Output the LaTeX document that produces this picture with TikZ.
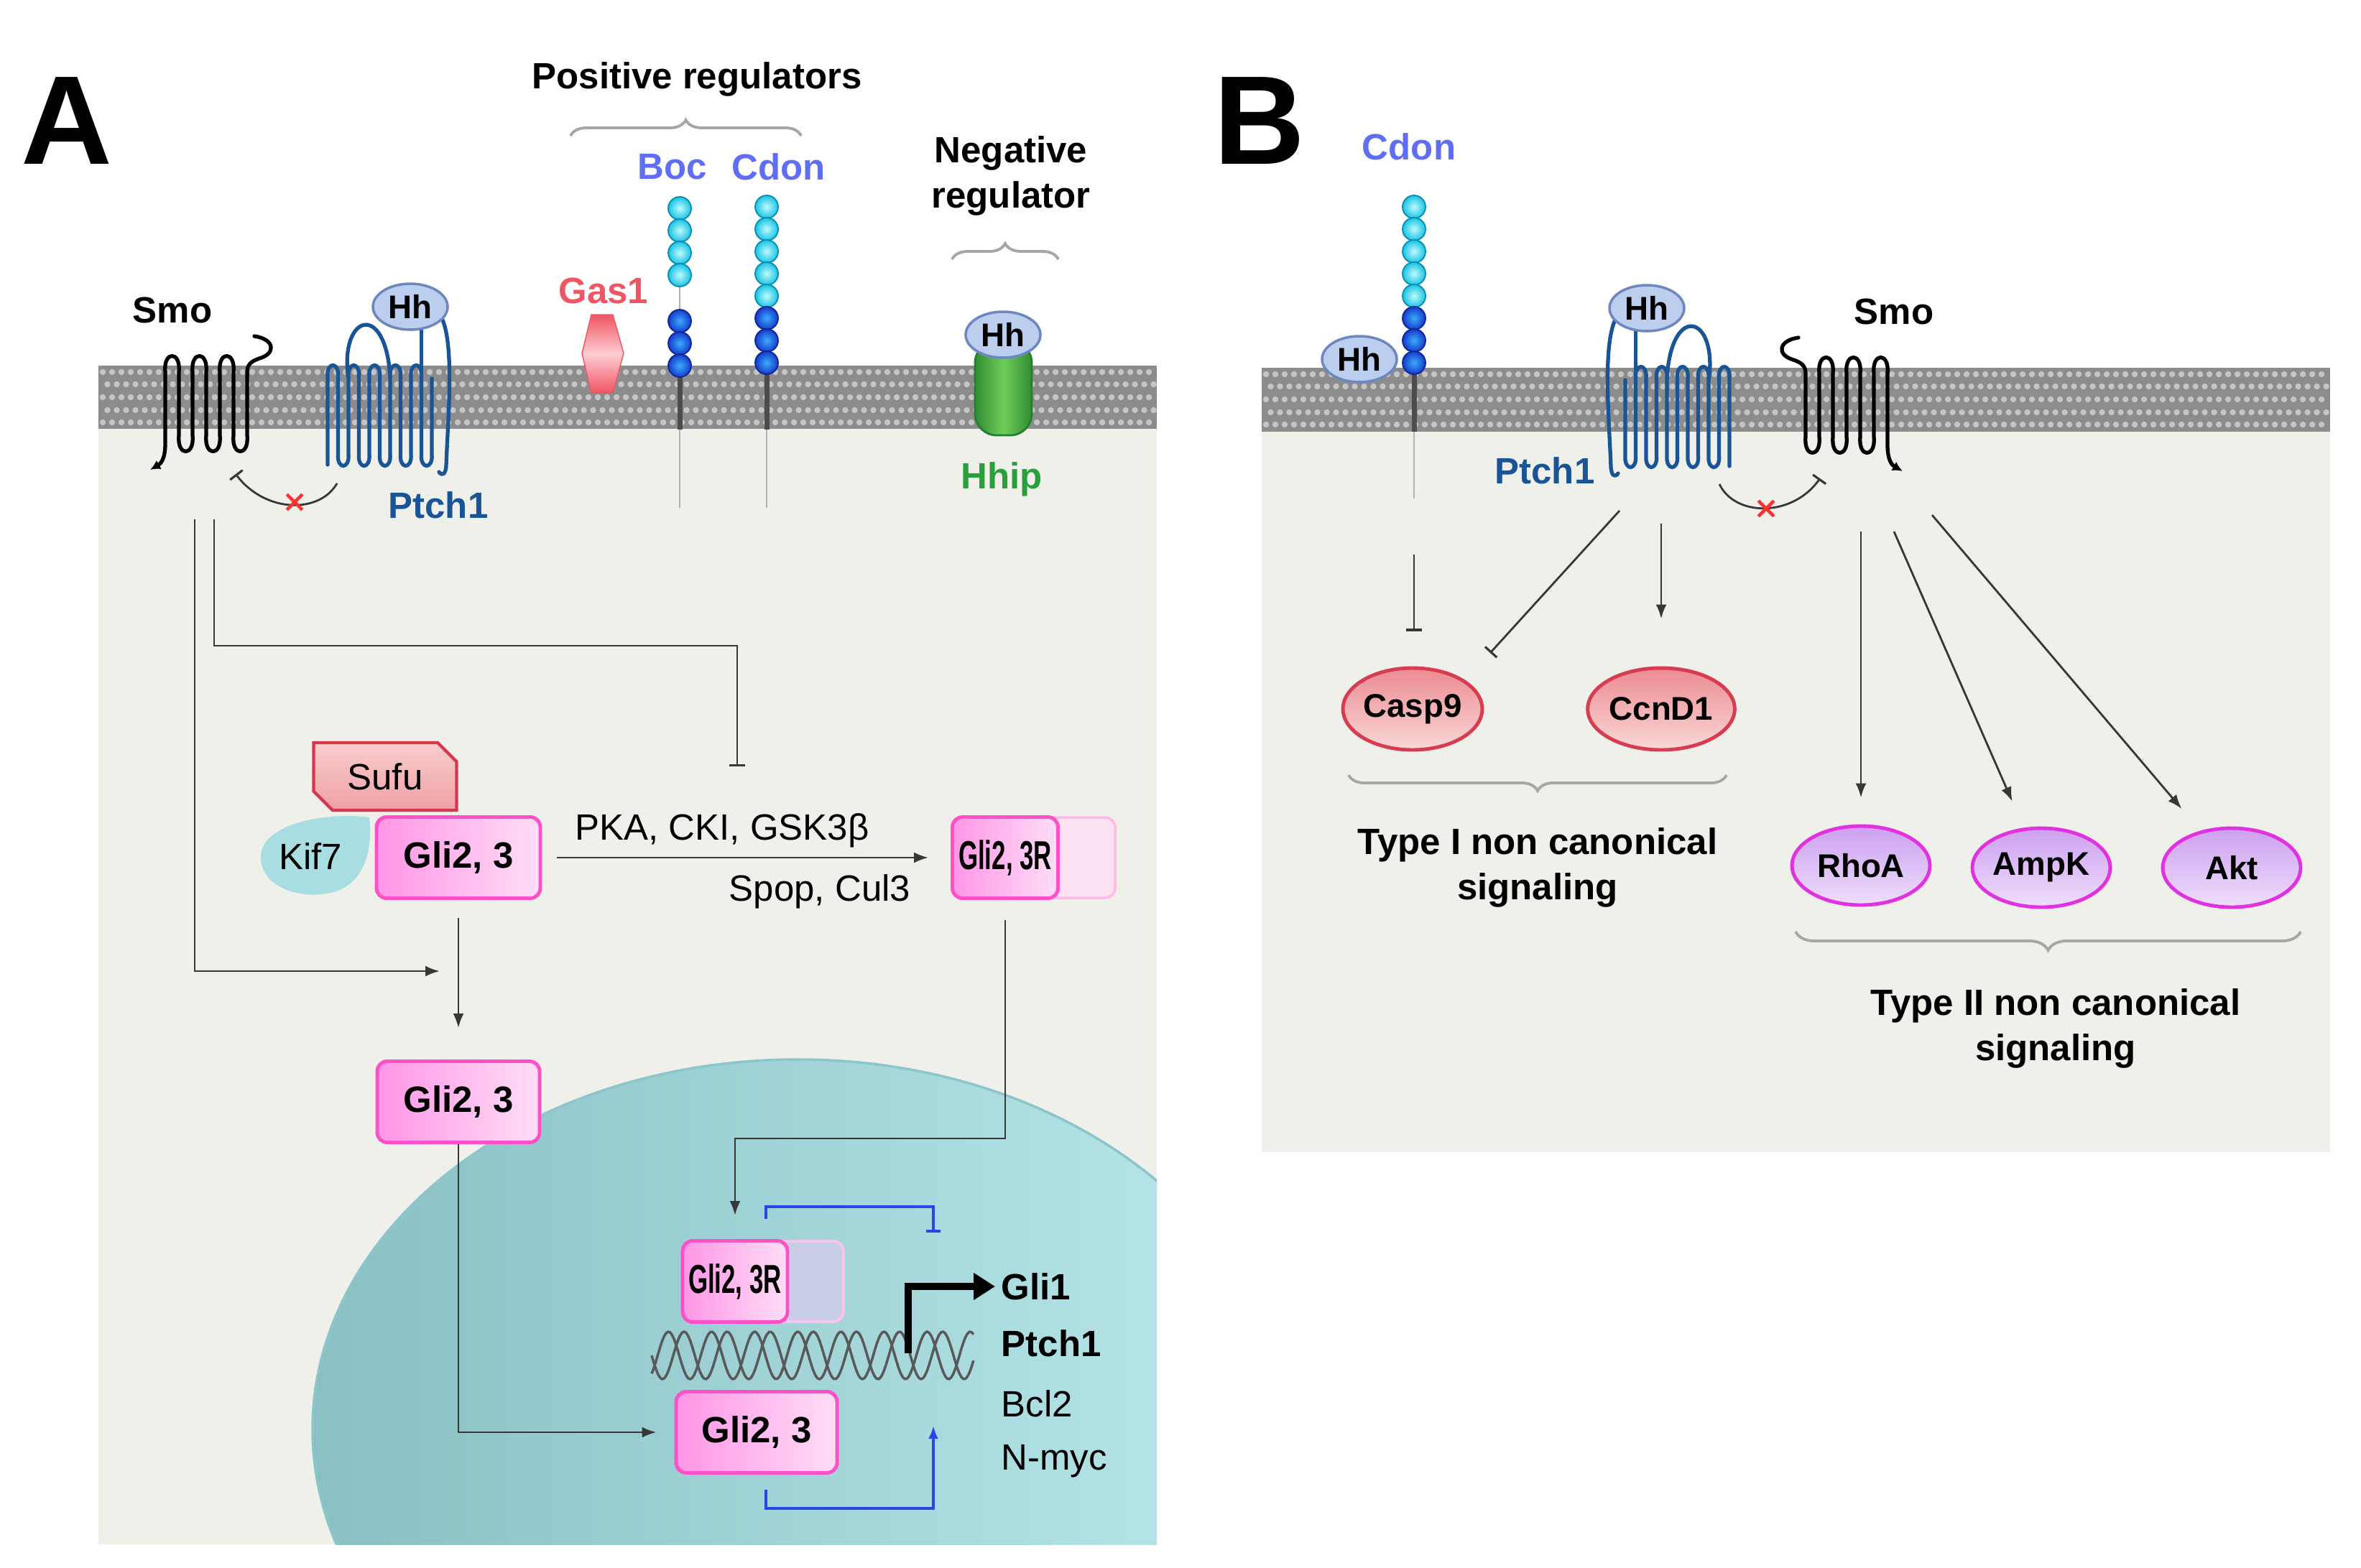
\documentclass[tikz,border=0pt]{standalone}
\usepackage{fontspec}
\setmainfont{Liberation Sans}
\usepackage{graphicx}
\usepackage{tikz}
\usetikzlibrary{arrows.meta,decorations.pathreplacing,shapes.geometric,shapes.misc}

\definecolor{panelgray}{RGB}{240,240,235}
\definecolor{membgray}{RGB}{140,140,140}
\definecolor{ptchblue}{RGB}{25,85,150}
\definecolor{hhfill}{RGB}{188,206,238}
\definecolor{hhline}{RGB}{110,135,190}
\definecolor{regblue}{RGB}{95,110,245}
\definecolor{beadcore}{RGB}{190,250,255}
\definecolor{beadlight}{RGB}{25,195,225}
\definecolor{beadedge}{RGB}{0,140,180}
\definecolor{beadmid}{RGB}{60,170,255}
\definecolor{beaddark}{RGB}{20,60,200}
\definecolor{beaddarkedge}{RGB}{15,35,150}
\definecolor{gasred}{RGB}{240,85,100}
\definecolor{gaspale}{RGB}{252,205,210}
\definecolor{hhipgreen}{RGB}{40,160,60}
\definecolor{hhipdark}{RGB}{50,140,50}
\definecolor{hhiplight}{RGB}{110,205,90}
\definecolor{gliline}{RGB}{255,80,200}
\definecolor{glideep}{RGB}{255,150,230}
\definecolor{glipale}{RGB}{255,222,247}
\definecolor{sufuline}{RGB}{215,55,75}
\definecolor{sufutop}{RGB}{248,205,205}
\definecolor{sufubot}{RGB}{240,160,165}
\definecolor{kiffill}{RGB}{168,222,226}
\definecolor{nucdark}{RGB}{138,192,195}
\definecolor{nuclight}{RGB}{185,232,236}
\definecolor{nucedge}{RGB}{140,198,202}
\definecolor{arrblue}{RGB}{40,70,230}
\definecolor{linegray}{RGB}{55,55,55}
\definecolor{xred}{RGB}{255,50,50}
\definecolor{caspline}{RGB}{215,60,80}
\definecolor{caspdeep}{RGB}{235,140,145}
\definecolor{casppale}{RGB}{250,215,215}
\definecolor{rholine}{RGB}{225,50,225}
\definecolor{rhodeep}{RGB}{205,160,240}
\definecolor{rhopale}{RGB}{238,222,250}
\definecolor{fadepink}{RGB}{253,226,243}
\definecolor{fadeblue}{RGB}{200,206,230}

\tikzset{
  lbl/.style={font=\bfseries\fontsize{14.5}{18}\selectfont},
  txt/.style={font=\fontsize{14.5}{18}\selectfont},
  panel/.style={font=\bfseries\fontsize{50}{60}\selectfont},
  arr/.style={draw=linegray, line width=0.8pt, -{Latex[length=0.2cm,width=0.15cm]}},
  inh/.style={draw=linegray, line width=0.8pt, -{Bar[width=0.22cm,line width=0.9pt]}},
  bluearr/.style={draw=arrblue, line width=1pt, -{Latex[length=0.18cm,width=0.14cm]}},
  blueinh/.style={draw=arrblue, line width=1pt, -{Bar[width=0.2cm,line width=1.2pt]}},
  brc/.style={draw=gray!70, line width=1.1pt, decorate, decoration={brace, amplitude=0.22cm}},
  hh/.style={ellipse, draw=hhline, line width=1pt, fill=hhfill, inner sep=0pt, minimum width=1.04cm, minimum height=0.64cm, font=\bfseries\fontsize{13}{15}\selectfont},
  glibox/.style={rectangle, rounded corners=0.14cm, draw=gliline, line width=1.4pt, left color=glideep, right color=glipale, inner sep=0pt, minimum height=1.13cm, lbl},
  glirbox/.style={glibox, minimum width=1.47cm, font=\bfseries\fontsize{16}{18}\selectfont},
  casp/.style={ellipse, draw=caspline, line width=1.4pt, top color=caspdeep, bottom color=casppale, inner sep=0pt, minimum width=1.92cm, minimum height=1.14cm, font=\bfseries\fontsize{13}{15}\selectfont},
  rho/.style={casp, draw=rholine, top color=rhodeep, bottom color=rhopale, minimum height=1.10cm},
  lightbead/.style={draw=beadedge, line width=0.5pt, inner color=beadcore, outer color=beadlight},
  darkbead/.style={draw=beaddarkedge, line width=0.5pt, inner color=beadmid, outer color=beaddark},
  protline/.style={line width=1.5pt, line join=round, line cap=round},
  dna/.style={draw=black!65, line width=1pt},
}

% seven-pass receptor, local frame centred on the helices
\newcommand{\smoprotein}{%
  \draw[protline, -{Latex[length=0.14cm,width=0.14cm]}] (0.67,-0.88) .. controls (0.95,-0.84) and (0.98,-0.64) .. (0.74,-0.57) .. controls (0.62,-0.53) and (0.57,-0.48) .. (0.57,-0.38)
  \foreach \k in {6,4,2} {
    -- ({-0.57+\k*0.19},0.50) .. controls ({-0.54+\k*0.19},0.80) and ({-0.60+(\k-1)*0.19},0.80) .. ({-0.57+(\k-1)*0.19},0.50)
    -- ({-0.57+(\k-1)*0.19},-0.38) .. controls ({-0.54+(\k-1)*0.19},-0.68) and ({-0.60+(\k-2)*0.19},-0.68) .. ({-0.57+(\k-2)*0.19},-0.38)
  }
  -- (-0.57,0.62) .. controls (-0.57,0.84) and (-0.64,0.90) .. (-0.78,0.98);%
}
% twelve-pass receptor, local frame centred on its Hh
\newcommand{\ptchprotein}{%
  \draw[protline, draw=ptchblue] (-1.15,2.20)
  \foreach \k in {0,2,4,6,8} {
    -- ({-1.15+\k*0.145},0.98) .. controls ({-1.17+\k*0.145},0.76) and ({-1.13+(\k+1)*0.145},0.76) .. ({-1.15+(\k+1)*0.145},0.98)
    -- ({-1.15+(\k+1)*0.145},2.05) .. controls ({-1.17+(\k+1)*0.145},2.27) and ({-1.13+(\k+2)*0.145},2.27) .. ({-1.15+(\k+2)*0.145},2.05)
  } -- (0.30,1.00);
  \draw[protline, draw=ptchblue] (-0.865,0.98) .. controls (-0.98,0.10) and (-0.34,-0.08) .. (-0.28,0.98);
  \draw[protline, draw=ptchblue] (0.155,0.25) -- (0.155,0.98);
  \draw[protline, draw=ptchblue] (0.44,0.16) .. controls (0.62,0.55) and (0.52,1.60) .. (0.50,2.22) .. controls (0.49,2.34) and (0.44,2.36) .. (0.40,2.30);%
}

\begin{document}
\begin{tikzpicture}[x=1cm,y=-1cm]
\useasboundingbox (0,0) rectangle (32.86,21.82);

%%%%%%%%%%%%%%%% Panel A %%%%%%%%%%%%%%%%
% Cytoplasm and nucleus
\fill[panelgray] (1.37,5.97) rectangle (16.10,21.50);
\begin{scope}
  \clip (1.37,5.97) rectangle (16.10,21.50);
  \shadedraw[draw=nucedge, line width=1pt, left color=nucdark, right color=nuclight] (11.10,19.90) ellipse [x radius=6.75cm, y radius=5.15cm];
\end{scope}

% Membrane
\fill[membgray] (1.37,5.09) rectangle (16.10,5.97);
\foreach \y/\o in {5.18/0,5.35/0.065,5.53/0,5.71/0.065,5.88/0}
  \foreach \x in {1.43,1.56,...,16.00}
    \fill[white, opacity=0.5] (\x+\o,\y) circle (0.042cm);

% Smo and Ptch1
\begin{scope}[shift={(2.87,5.56)}]
  \smoprotein
\end{scope}
\begin{scope}[shift={(5.71,4.27)}]
  \ptchprotein
\end{scope}
\node[hh] (hhA) at (5.71,4.27) {Hh};
\node[lbl] (smoA) at (2.40,4.32) {Smo};
\node[lbl, text=ptchblue] (ptchA) at (6.10,7.03) {Ptch1};
\coordinate (ptchA-in) at (4.69,6.73);
\coordinate (smoA-in) at (3.28,6.60);
\draw[inh] (ptchA-in) .. controls (4.45,7.15) and (3.70,7.15) .. (smoA-in);
\node[cross out, draw=xred, line width=1.3pt, minimum size=0.17cm, inner sep=0pt] (xA) at (4.10,6.99) {};

% Gas1
\shadedraw[draw=gasred, top color=gasred, bottom color=gasred, middle color=gaspale] (8.23,4.38) -- (8.53,4.38) -- (8.68,4.92) -- (8.53,5.47) -- (8.23,5.47) -- (8.10,4.92) -- cycle;
\node[lbl, text=gasred] (gas1) at (8.40,4.05) {Gas1};

% Boc and Cdon
\foreach \x in {9.46,10.67} {
  \draw[gray!60, line width=0.6pt] (\x,2.75) -- (\x,7.07);
  \draw[black!70, line width=2pt] (\x,5.10) -- (\x,5.98);
}
\foreach \y in {2.90,3.21,3.52,3.83} \shadedraw[lightbead] (9.46,\y) circle (0.16cm);
\foreach \y in {2.88,3.19,3.50,3.81,4.12} \shadedraw[lightbead] (10.67,\y) circle (0.16cm);
\foreach \y in {4.47,4.78,5.09} \shadedraw[darkbead] (9.46,\y) circle (0.16cm);
\foreach \y in {4.43,4.74,5.05} \shadedraw[darkbead] (10.67,\y) circle (0.16cm);
\node[lbl, text=regblue] (boc) at (9.36,2.32) {Boc};
\node[lbl, text=regblue] (cdonA) at (10.84,2.32) {Cdon};
\node[lbl] (posreg) at (9.70,1.10) {Positive regulators};
\draw[brc] (7.94,1.89) -- (11.15,1.89);

% Hhip
\shadedraw[draw=hhipgreen!80!black, line width=0.8pt, left color=hhipdark, right color=hhipdark, middle color=hhiplight, rounded corners=0.3cm] (13.57,4.75) -- (13.57,6.06) -- (14.36,6.06) -- (14.36,4.75) -- cycle;
\node[hh] (hhH) at (13.96,4.66) {Hh};
\node[lbl, text=hhipgreen] (hhip) at (13.94,6.67) {Hhip};
\node[lbl, align=center] (negreg) at (14.07,2.45) {Negative\\regulator};
\draw[brc] (13.25,3.61) -- (14.73,3.61);

\node[panel] (lblA) at (0.93,1.68) {A};

% Gli processing in the cytoplasm
\node[chamfered rectangle, chamfered rectangle corners={north east,south west}, chamfered rectangle xsep=0.14cm,
      draw=sufuline, line width=1.2pt, top color=sufutop, bottom color=sufubot,
      minimum width=1.99cm, minimum height=0.94cm, inner sep=0pt, txt] (sufu) at (5.36,10.81) {Sufu};
\fill[kiffill] (5.14,11.38) .. controls (4.60,11.30) and (3.63,11.45) .. (3.63,11.93) .. controls (3.63,12.42) and (4.35,12.56) .. (4.75,12.38) .. controls (5.12,12.20) and (5.18,11.75) .. cycle;
\node[txt] (kif7) at (4.32,11.92) {Kif7};
\node[glibox, minimum width=2.28cm] (gli23) at (6.38,11.94) {Gli2, 3};
\draw[fadepink, fill=fadepink, draw=gliline!40, line width=1pt, rounded corners=0.14cm] (14.40,11.38) rectangle (15.52,12.50);
\node[glirbox] (gli23R) at (13.99,11.94) {\scalebox{0.62}[1]{Gli2, 3R}};
\node[txt] (kin) at (10.05,11.56) {PKA, CKI, GSK3β};
\node[txt] (ubq) at (11.41,12.41) {Spop, Cul3};
\node[glibox, minimum width=2.26cm] (gli23m) at (6.38,15.34) {Gli2, 3};

% Nucleus
\draw[fill=fadeblue, draw=gliline!35, line width=1pt, rounded corners=0.14cm] (10.60,17.28) rectangle (11.74,18.40);
\node[glirbox, minimum width=1.46cm] (gli23Rn) at (10.23,17.84) {\scalebox{0.62}[1]{Gli2, 3R}};
\draw[dna] plot[domain=9.07:13.55, samples=160] (\x,{18.87+0.33*sin(360*(\x-9.07)/0.60)});
\draw[dna] plot[domain=9.07:13.55, samples=160] (\x,{18.87+0.33*sin(360*(\x-9.07)/0.60+130)});
\node[glibox, minimum width=2.24cm] (gli23b) at (10.53,19.94) {Gli2, 3};
\node[lbl, anchor=west, inner sep=0.08cm] (gli1) at (13.85,17.91) {Gli1};
\node[lbl, anchor=west, inner sep=0.08cm] (ptch1g) at (13.85,18.70) {Ptch1};
\node[txt, anchor=west, inner sep=0.08cm] (bcl2) at (13.85,19.54) {Bcl2};
\node[txt, anchor=west, inner sep=0.08cm] (nmyc) at (13.85,20.34) {N-myc};
\coordinate (tss) at (12.64,18.84);
\coordinate (tssup) at (12.99,17.16);
\coordinate (tssdn) at (12.99,19.85);
\draw[line width=2.6pt, -{Triangle[length=0.3cm,width=0.36cm]}] (tss) |- (gli1.west);

% Connectors A
\coordinate (smoA-o1) at (2.98,7.23);
\coordinate (smoA-o2) at (2.71,7.23);
\coordinate (phos) at (10.26,10.67);
\coordinate (smoA-end) at (6.12,13.52);
\draw[inh] (smoA-o1) |- (10.26,8.99) -- (phos);
\draw[arr] (smoA-o2) |- (smoA-end);
\draw[arr, shorten <=0.21cm, shorten >=0.31cm] (gli23) -- (gli23R);
\draw[arr, shorten <=0.25cm, shorten >=0.44cm] (gli23) -- (gli23m);
\draw[arr, shorten <=0.28cm, shorten >=0.33cm] (gli23R.south) -- (13.99,15.85) -| (gli23Rn.north);
\draw[arr, shorten >=0.25cm] (gli23m.south) |- (gli23b.west);
\draw[blueinh] ([xshift=0.43cm,yshift=0.28cm]gli23Rn.north) -- ++(0,-0.17) -| (tssup);
\draw[bluearr] ([xshift=0.13cm,yshift=-0.21cm]gli23b.south) -- ++(0,0.26) -| (tssdn);

%%%%%%%%%%%%%%%% Panel B %%%%%%%%%%%%%%%%
\fill[panelgray] (17.56,6.01) rectangle (32.43,16.04);
\fill[membgray] (17.56,5.12) rectangle (32.43,6.01);
\foreach \y/\o in {5.21/0,5.38/0.065,5.56/0,5.74/0.065,5.91/0}
  \foreach \x in {17.62,17.75,...,32.35}
    \fill[white, opacity=0.5] (\x+\o,\y) circle (0.042cm);

% Cdon
\draw[gray!60, line width=0.6pt] (19.68,2.75) -- (19.68,6.94);
\draw[black!70, line width=2pt] (19.68,5.12) -- (19.68,6.01);
\foreach \y in {2.88,3.19,3.50,3.81,4.12} \shadedraw[lightbead] (19.68,\y) circle (0.16cm);
\foreach \y in {4.43,4.74,5.05} \shadedraw[darkbead] (19.68,\y) circle (0.16cm);
\node[hh] (hhB1) at (18.92,5.00) {Hh};
\node[lbl, text=regblue] (cdonB) at (19.61,2.04) {Cdon};

% Ptch1 and Smo
\begin{scope}[shift={(22.92,4.29)}, xscale=-1]
  \ptchprotein
\end{scope}
\node[hh] (hhB2) at (22.92,4.29) {Hh};
\node[lbl, text=ptchblue] (ptchB) at (21.50,6.55) {Ptch1};
\begin{scope}[shift={(25.70,5.58)}, xscale=-1]
  \smoprotein
\end{scope}
\node[lbl] (smoB) at (26.36,4.34) {Smo};
\coordinate (ptchB-in) at (23.93,6.74);
\coordinate (smoB-in) at (25.33,6.66);
\draw[inh] (ptchB-in) .. controls (24.15,7.20) and (24.95,7.20) .. (smoB-in);
\node[cross out, draw=xred, line width=1.3pt, minimum size=0.17cm, inner sep=0pt] (xB) at (24.58,7.08) {};

\node[panel] (lblB) at (17.53,1.68) {B};

% Targets
\node[casp] (casp9) at (19.66,9.87) {Casp9};
\node[casp] (ccnd1) at (23.12,9.87) {CcnD1};
\node[rho] (rhoa) at (25.90,12.05) {RhoA};
\node[rho] (ampk) at (28.41,12.08) {AmpK};
\node[rho] (akt) at (31.06,12.08) {Akt};

\coordinate (cdonB-o) at (19.68,7.72);
\coordinate (ptchB-o1) at (22.54,7.11);
\coordinate (ptchB-o2) at (23.12,7.29);
\coordinate (casp9-t) at (20.74,9.09);
\coordinate (smoB-o1) at (25.90,7.40);
\coordinate (smoB-o2) at (26.36,7.40);
\coordinate (smoB-o3) at (26.89,7.17);
\draw[inh, shorten >=0.49cm] (cdonB-o) -- (cdonB-o |- casp9.north);
\draw[inh] (ptchB-o1) -- (casp9-t);
\draw[arr, shorten >=0.66cm] (ptchB-o2) -- (ccnd1.north);
\draw[arr, shorten >=0.37cm] (smoB-o1) -- (rhoa);
\draw[arr, shorten >=0.40cm] (smoB-o2) -- (ampk);
\draw[arr, shorten >=0.40cm] (smoB-o3) -- (akt);

\draw[brc] (24.03,10.79) -- (18.77,10.79);
\node[lbl, align=center] (type1) at (21.40,12.08) {Type I non canonical\\signaling};
\draw[brc, decoration={brace, amplitude=0.26cm}] (32.02,12.97) -- (24.99,12.97);
\node[lbl, align=center] (type2) at (28.61,14.32) {Type II non canonical\\signaling};
\end{tikzpicture}
\end{document}
